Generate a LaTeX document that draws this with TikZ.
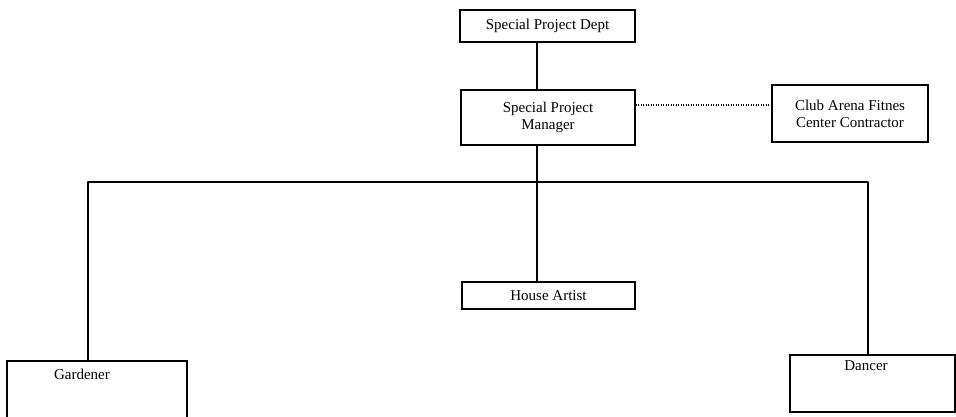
\documentclass[tikz,border=0pt]{standalone}
\usepackage{fontspec}
\setmainfont{Liberation Serif}
\begin{document}
\begin{tikzpicture}[x=1pt,y=-1pt,
  box/.style={draw, line width=1.2pt, inner sep=0pt, align=center, font=\fontsize{15}{17}\selectfont},
  lbl/.style={inner sep=0pt, font=\fontsize{15}{17}\selectfont},
  conn/.style={line width=1.2pt},
  dots/.style={line width=1.2pt, dash pattern=on 1.2pt off 1.3pt}]
\useasboundingbox (0,0) rectangle (956,416);
\node[box, minimum width=175pt, minimum height=32pt] (dept) at (547.5,26) {Special Project Dept};
\node[box, minimum width=174pt, minimum height=55pt] (mgr) at (548,117.5) {Special Project\\Manager};
\node[box, minimum width=156pt, minimum height=57pt] (club) at (850,113.5) {Club Arena Fitnes\\Center Contractor};
\node[box, minimum width=173pt, minimum height=27pt] (house) at (548.5,295.5) {House Artist};
\node[draw, line width=1.2pt, minimum width=165pt, minimum height=57pt, inner sep=0pt] (dancer) at (872.5,383.5) {};
\node[lbl] (dancert) at (866,366) {Dancer};
\coordinate (gl) at (7,361);
\coordinate (gr) at (187,361);
\node[lbl] (gardt) at (82,374) {Gardener};
\coordinate (tx) at (537,0);
\coordinate (hl) at (88,182);
\coordinate (hr) at (868,182);
\draw[conn] (dept.south -| tx) -- (mgr.north -| tx);
\draw[conn] (mgr.south -| tx) -- (house.north -| tx);
\draw[dots] ([yshift=12.5pt]mgr.east) -- ([yshift=12.5pt]mgr.east -| club.west);
\draw[conn, line join=round] (hl |- gl) -- (hl) -- (hr) -- (hr |- dancer.north);
\draw[conn] (gl) ++(0,60) -- (gl) -- (gr) -- ++(0,60);
\end{tikzpicture}
\end{document}
